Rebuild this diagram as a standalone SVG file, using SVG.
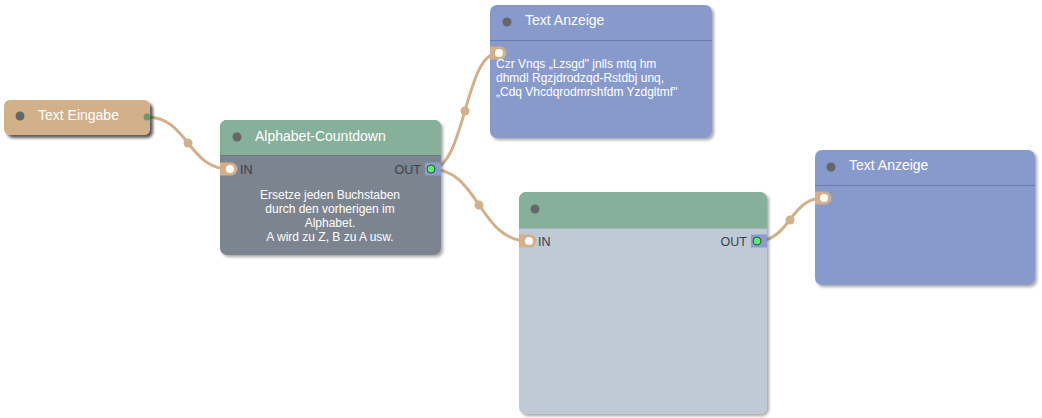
<svg xmlns="http://www.w3.org/2000/svg" width="1042" height="418" viewBox="0 0 1042 418">
<defs>
<filter id="sh" x="-10%" y="-10%" width="130%" height="130%"><feDropShadow dx="2" dy="2" stdDeviation="1.5" flood-color="#000" flood-opacity="0.35"/></filter>
<filter id="sh2" x="-10%" y="-20%" width="130%" height="160%"><feDropShadow dx="3" dy="3" stdDeviation="1.5" flood-color="#000" flood-opacity="0.65"/></filter>
<style>
.t{font-family:"Liberation Sans",Arial,sans-serif;fill:#fff;font-size:14px}
.p{font-family:"Liberation Sans",Arial,sans-serif;fill:#3a404a;font-size:12.5px}
.b{font-family:"Liberation Sans",Arial,sans-serif;fill:#fff;font-size:12px}
.dot{fill:#666}
.hl{stroke:#6a7ba6;stroke-width:1}
.c{fill:none;stroke:#d2b08a;stroke-width:3}
.m{fill:#d2b08a}
.tab{fill:#d2b08a}
.otab{fill:#8a9bcc}
.pin{fill:#fff}
.pout{fill:#5cf06a;stroke:#3a4a40;stroke-width:1}
</style>
</defs>
<g id="connectors">
<path class="c" d="M147,117 C188,117 188,169 229,169"/>
<circle class="m" cx="188" cy="143" r="4.5"/>
<path class="c" d="M431,169 C465,169 465,53 498,53"/>
<circle class="m" cx="465" cy="111" r="4.5"/>
<path class="c" d="M431,169 C479,169 479,241 528,241"/>
<circle class="m" cx="479" cy="205" r="4.5"/>
<path class="c" d="M757,241 C790,241 790,198 823,198"/>
<circle class="m" cx="790" cy="220" r="4.5"/>
</g>
<g id="text-eingabe">
<rect x="4" y="100" width="146" height="35" rx="6" fill="#d2b08a" filter="url(#sh2)"/>
<circle class="dot" cx="20" cy="116" r="4.5"/>
<text class="t" x="38" y="120">Text Eingabe</text>
<circle cx="147" cy="117" r="3.5" fill="#6a9a6a"/>
</g>
<g id="alphabet-countdown">
<g filter="url(#sh)">
<rect x="220" y="120" width="221" height="135" rx="7" fill="#7b8490"/>
<path d="M220,155 V127 a7,7 0 0 1 7,-7 H434 a7,7 0 0 1 7,7 V155 Z" fill="#86b09a"/>
</g>
<line x1="220" y1="155.5" x2="441" y2="155.5" stroke="#6d7a80"/>
<circle class="dot" cx="237" cy="137" r="4.5"/>
<text class="t" x="255" y="141">Alphabet-Countdown</text>
<path class="tab" d="M220,162.5 H231 a6.5,6.5 0 0 1 0,13 H220 Z"/>
<circle class="pin" cx="230" cy="169" r="4"/>
<text class="p" x="240" y="174">IN</text>
<text class="p" x="421" y="174" text-anchor="end">OUT</text>
<rect class="otab" x="425" y="162.5" width="16" height="13"/>
<circle class="pout" cx="431" cy="169" r="4"/>
<text class="b" x="330" y="199" text-anchor="middle">Ersetze jeden Buchstaben</text>
<text class="b" x="330" y="213" text-anchor="middle">durch den vorherigen im</text>
<text class="b" x="330" y="227" text-anchor="middle">Alphabet.</text>
<text class="b" x="330" y="241" text-anchor="middle">A wird zu Z, B zu A usw.</text>
</g>
<g id="text-anzeige-1">
<rect x="490" y="5" width="222" height="133" rx="7" fill="#8899cc" filter="url(#sh)"/>
<line class="hl" x1="490" y1="40.5" x2="712" y2="40.5"/>
<circle class="dot" cx="507" cy="22" r="4.5"/>
<text class="t" x="525" y="25">Text Anzeige</text>
<path class="tab" d="M490,46.5 H500 a6.5,6.5 0 0 1 0,13 H490 Z"/>
<circle class="pin" cx="499" cy="53" r="4"/>
<text class="b" x="496" y="68">Czr Vnqs „Lzsgd" jnlls mtq hm</text>
<text class="b" x="496" y="82">dhmdl Rgzjdrodzqd-Rstdbj unq,</text>
<text class="b" x="496" y="96">„Cdq Vhcdqrodmrshfdm Yzdgltmf"</text>
</g>
<g id="middle-node">
<g filter="url(#sh)">
<rect x="519" y="192" width="248" height="222" rx="7" fill="#bfcad6"/>
<path d="M519,228 V199 a7,7 0 0 1 7,-7 H760 a7,7 0 0 1 7,7 V228 Z" fill="#86b09a"/>
</g>
<line x1="519" y1="228.5" x2="767" y2="228.5" stroke="#9fb0b8"/>
<circle class="dot" cx="535" cy="209" r="4.5"/>
<path class="tab" d="M519,234.5 H530 a6.5,6.5 0 0 1 0,13 H519 Z"/>
<circle class="pin" cx="529" cy="241" r="4"/>
<text class="p" x="538" y="246">IN</text>
<text class="p" x="747" y="246" text-anchor="end">OUT</text>
<rect class="otab" x="751" y="234.5" width="16" height="13"/>
<circle class="pout" cx="757" cy="241" r="4"/>
</g>
<g id="text-anzeige-2">
<rect x="815" y="150" width="220" height="135" rx="7" fill="#8899cc" filter="url(#sh)"/>
<line class="hl" x1="815" y1="185.5" x2="1035" y2="185.5"/>
<circle class="dot" cx="831" cy="167" r="4.5"/>
<text class="t" x="849" y="170">Text Anzeige</text>
<path class="tab" d="M815,191.5 H825 a6.5,6.5 0 0 1 0,13 H815 Z"/>
<circle class="pin" cx="824" cy="198" r="4"/>
</g>
</svg>
